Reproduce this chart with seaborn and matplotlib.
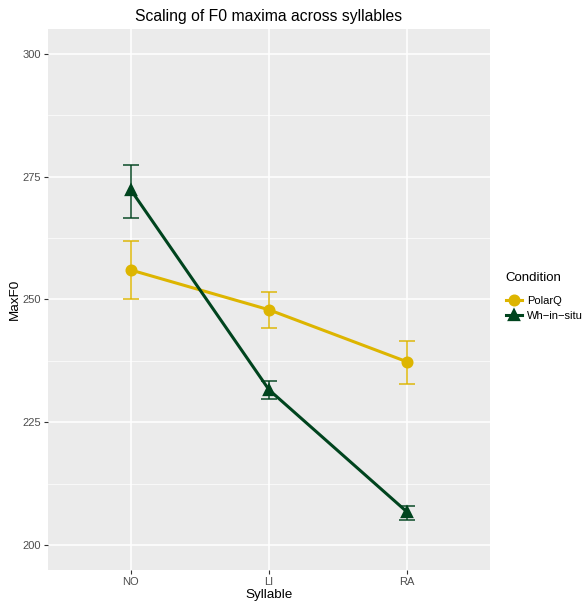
"""
Scaling of F0 maxima across syllables: point plot with error bars.
"""

import matplotlib
matplotlib.use("Agg")
import matplotlib.pyplot as plt
import numpy as np
import pandas as pd
import seaborn as sns

syllables = ["NO", "LI", "RA"]
conditions = ["PolarQ", "Wh\u2212in\u2212situ"]

polarq_mean = [256.0, 247.9, 237.3]
polarq_lo = [250.1, 244.2, 232.8]
polarq_hi = [261.9, 251.5, 241.5]

wh_mean = [272.3, 231.6, 206.7]
wh_lo = [266.6, 229.7, 205.1]
wh_hi = [277.4, 233.4, 207.9]

colors = {"PolarQ": "#DDB500", "Wh\u2212in\u2212situ": "#00441E"}
markers = {"PolarQ": "o", "Wh\u2212in\u2212situ": "^"}

plt.rcParams["font.family"] = ["Liberation Sans", "DejaVu Sans"]

df = pd.DataFrame({
    "Syllable": syllables * 2,
    "Condition": [conditions[0]] * 3 + [conditions[1]] * 3,
    "MaxF0": polarq_mean + wh_mean,
    "lo": polarq_lo + wh_lo,
    "hi": polarq_hi + wh_hi,
})

fig = plt.figure(figsize=(5.82, 6.03), dpi=100)
ax = fig.add_axes([0.0825, 0.0547, 0.7595, 0.8973])
ax.set_facecolor("#EBEBEB")

# error bars first so points sit on top
for cond in conditions:
    sub = df[df["Condition"] == cond]
    xs = [syllables.index(s) for s in sub["Syllable"]]
    yerr = np.vstack([sub["MaxF0"] - sub["lo"], sub["hi"] - sub["MaxF0"]])
    ax.errorbar(xs, sub["MaxF0"], yerr=yerr, fmt="none",
                ecolor=colors[cond], alpha=0.75, elinewidth=1.4,
                capsize=6, capthick=1.4, zorder=3)

sns.pointplot(data=df, x="Syllable", y="MaxF0", hue="Condition",
              order=syllables, hue_order=conditions, palette=colors,
              markers=[markers[c] for c in conditions], linestyles="-",
              errorbar=None, ax=ax, markersize=7, linewidth=2.2)
for ln in ax.lines:
    ln.set_zorder(4)

ax.set_xlim(-0.6, 2.6)
ax.set_ylim(194.9, 305.1)
ax.set_yticks([200, 225, 250, 275, 300])
ax.set_yticks([212.5, 237.5, 262.5, 287.5], minor=True)
ax.grid(True, which="major", color="white", linewidth=1.1)
ax.grid(True, which="minor", axis="y", color="white", linewidth=0.5)
ax.set_axisbelow(True)
for s in ax.spines.values():
    s.set_visible(False)
ax.tick_params(axis="both", which="major", length=3, color="#333333",
               labelcolor="#4D4D4D", labelsize=8, pad=2)
ax.tick_params(axis="y", which="minor", length=0)

ax.set_xlabel("Syllable", fontsize=9.7, labelpad=1.5)
ax.set_ylabel("MaxF0", fontsize=9.7, labelpad=1)
ax.set_title("Scaling of F0 maxima across syllables", fontsize=11.3, pad=6)

handles, labels = ax.get_legend_handles_labels()
leg = ax.legend(handles, labels, title="Condition", loc="center left",
                bbox_to_anchor=(1.025, 0.505), frameon=False, fontsize=8,
                title_fontsize=9.5, handlelength=1.5, handletextpad=0.45,
                alignment="left", borderaxespad=0)
# a bit more room between the legend title and its entries
leg._legend_box.sep = 8

fig.savefig("out.png", dpi=100)
